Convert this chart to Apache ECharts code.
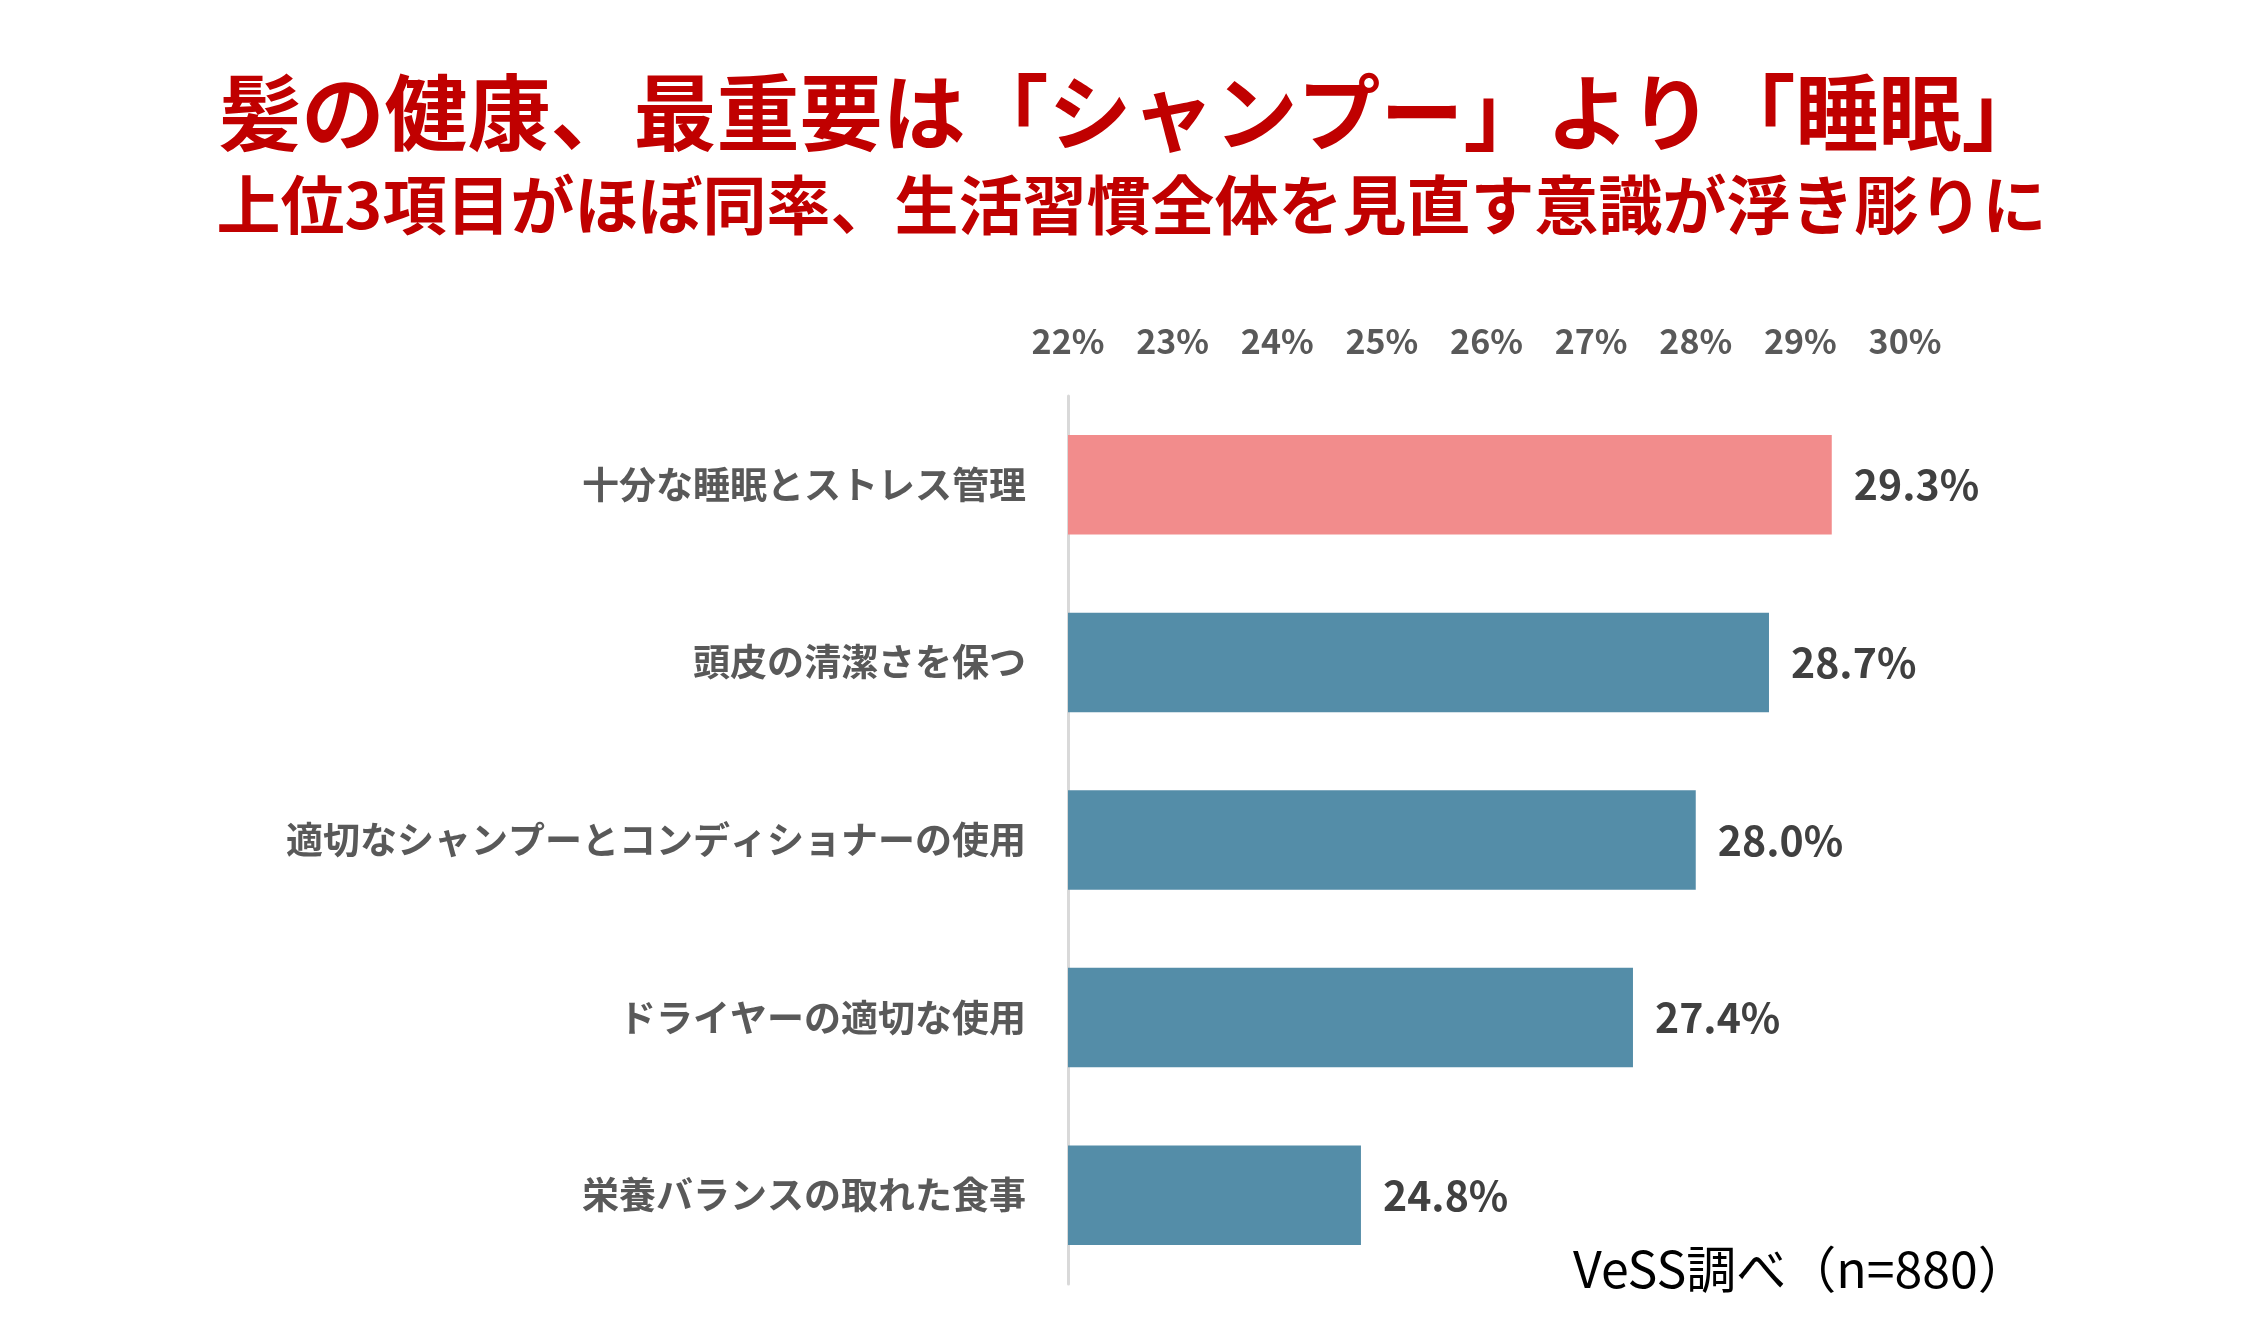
<!DOCTYPE html>
<html>
<head>
<meta charset="utf-8">
<script src="https://cdn.jsdelivr.net/npm/echarts@6/dist/echarts.min.js"></script>
<style>
html, body { margin: 0; padding: 0; background: #fff; }
#chart { width: 2263px; height: 1340px; }
</style>
</head>
<body>
<div id="chart"></div>
<script>
var titleMain = '髪の健康、最重要は「シャンプー」より「睡眠」';
var titleSub = '上位3項目がほぼ同率、生活習慣全体を見直す意識が浮き彫りに';
var sourceNote = 'VeSS調べ（n=880）';

var categories = [
	'十分な睡眠とストレス管理',
	'頭皮の清潔さを保つ',
	'適切なシャンプーとコンディショナーの使用',
	'ドライヤーの適切な使用',
	'栄養バランスの取れた食事'
];
var values = [29.3, 28.7, 28.0, 27.4, 24.8];
var axisMin = 22, axisMax = 30, axisStep = 1;

var font = 'Noto Sans CJK JP';

var myChart = echarts.init(document.getElementById('chart'));

var option = {
	backgroundColor: '#ffffff',
	animation: false,
	title: [{
		text: titleMain,
		left: 'center',
		top: 66,
		textStyle: {
			color: '#C00000',
			fontSize: 83,
			lineHeight: 83,
			fontWeight: 'bold',
			fontFamily: font
		}
	}, {
		text: titleSub,
		left: 'center',
		top: 168,
		textStyle: {
			color: '#C00000',
			fontSize: 64,
			lineHeight: 64,
			fontWeight: 'bold',
			fontFamily: font
		}
	}, {
		text: sourceNote,
		left: 1568,
		top: 1238,
		textStyle: {
			color: '#000000',
			fontSize: 50,
			lineHeight: 52,
			fontWeight: 'normal',
			fontFamily: font
		}
	}],
	grid: {
		left: 1068,
		right: 358,
		top: 396,
		bottom: 56,
		containLabel: false
	},
	xAxis: {
		type: 'value',
		position: 'top',
		min: axisMin,
		max: axisMax,
		interval: axisStep,
		axisLine: { show: false },
		axisTick: { show: false },
		splitLine: { show: false },
		axisLabel: {
			formatter: '{value}%',
			color: '#595959',
			fontSize: 34,
			fontWeight: 'bold',
			fontFamily: font,
			margin: 38
		}
	},
	yAxis: {
		type: 'category',
		inverse: true,
		data: categories,
		axisLine: {
			show: true,
			lineStyle: { color: '#d9d9d9', width: 3 }
		},
		axisTick: { show: false },
		axisLabel: {
			color: '#595959',
			fontSize: 37,
			fontWeight: 'bold',
			fontFamily: font,
			margin: 42,
			lineHeight: 37,
			padding: [0, 0, 16, 0]
		}
	},
	series: [{
		type: 'bar',
		data: values,
		barWidth: '56%',
		itemStyle: {
			color: function (p) {
				return p.dataIndex === 0 ? '#F28C8C' : '#548DA8';
			}
		},
		label: {
			show: true,
			position: 'right',
			distance: 22,
			color: '#404040',
			fontSize: 41,
			fontWeight: 'bold',
			fontFamily: font,
			formatter: function (p) {
				return p.value.toFixed(1) + '%';
			}
		}
	}]
};
myChart.setOption(option);
</script>
</body>
</html>
